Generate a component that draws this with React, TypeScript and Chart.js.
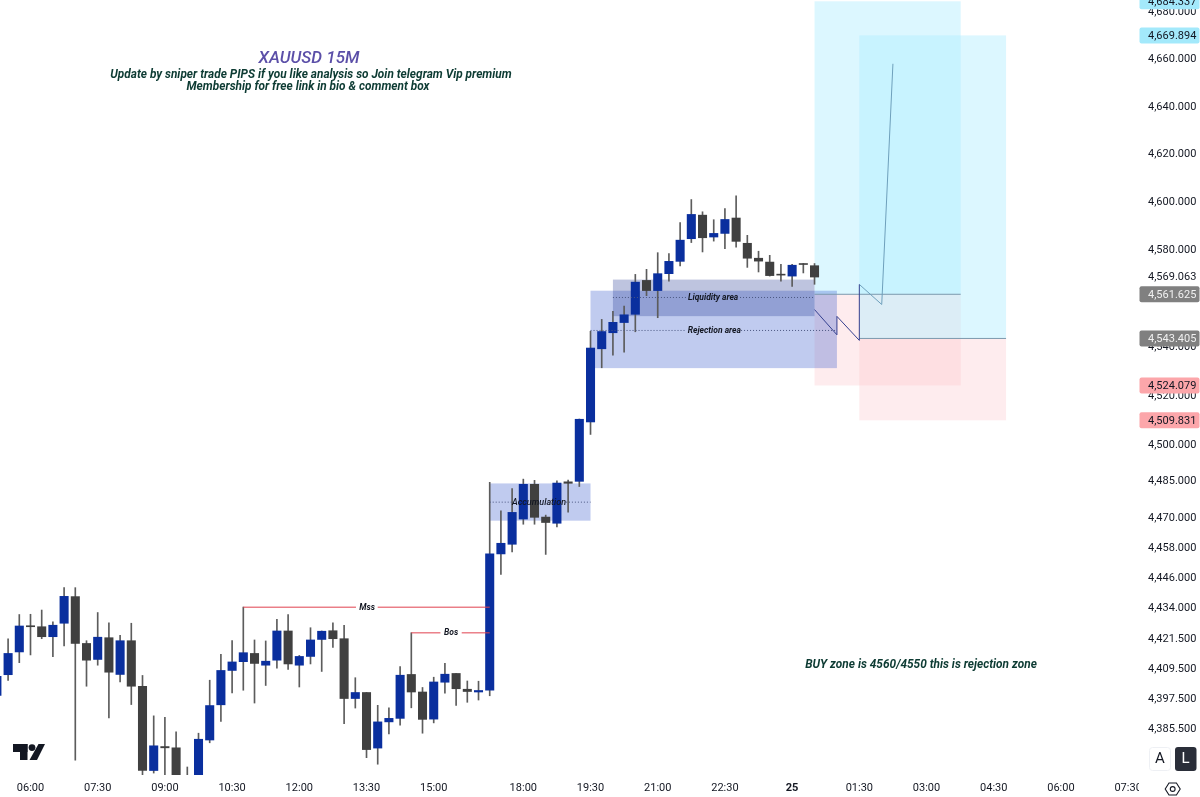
import React, { useEffect, useRef } from "react";
import { Chart, registerables } from "chart.js";

Chart.register(...registerables);

const FIRST_INDEX = -3;
// Prices were read against tick-label centres, which sit slightly above their true price level.
const READ_CORRECTION = 0.45;
const rawOpens = [4398.3,4406.6,4415.7,4426.2,4425.8,4421.8,4427.2,4437.9,4419.1,4412.7,4421.4,4406.7,4420.2,4402.0,4368.5,4378.0,4377.5,4362.0,4362.0,4380.6,4394.6,4408.3,4411.8,4415.1,4410.4,4412.4,4424.1,4410.4,4413.9,4420.7,4424.2,4421.0,4397.1,4399.5,4377.4,4387.8,4389.2,4406.7,4399.7,4388.9,4403.6,4407.1,4400.8,4399.7,4400.4,4455.1,4459.0,4469.2,4483.3,4470.0,4467.5,4484.3,4484.5,4508.7,4538.7,4545.3,4549.5,4552.9,4566.9,4562.7,4569.7,4574.8,4584.2,4594.0,4584.9,4586.4,4592.8,4582.3,4576.1,4574.5,4569.5,4568.7,4573.9,4573.0];
const rawHighs = [4408.7,4421.0,4430.7,4430.8,4432.5,4427.8,4441.5,4441.5,4420.2,4431.5,4427.4,4422.4,4427.2,4406.3,4390.2,4389.6,4383.8,4369.9,4383.3,4404.4,4414.7,4420.3,4433.7,4420.5,4420.1,4428.8,4430.7,4414.3,4425.4,4424.1,4427.4,4426.4,4405.4,4399.5,4394.4,4393.4,4409.8,4423.4,4401.5,4405.6,4411.1,4407.1,4404.1,4404.0,4484.1,4472.5,4481.6,4485.4,4484.9,4470.8,4484.7,4485.0,4509.9,4545.9,4550.8,4554.1,4556.3,4569.4,4571.5,4578.4,4578.0,4590.9,4600.5,4595.4,4592.1,4596.7,4602.1,4585.6,4579.0,4577.3,4573.6,4573.6,4573.9,4573.9];
const rawLows = [4396.0,4404.3,4411.4,4414.5,4421.0,4413.8,4418.1,4372.6,4402.0,4410.4,4389.4,4403.7,4394.7,4366.5,4367.5,4360.0,4358.0,4358.0,4358.0,4379.5,4388.0,4399.3,4400.4,4395.3,4402.3,4409.2,4408.7,4401.7,4410.9,4407.9,4417.5,4387.1,4393.3,4373.6,4371.0,4383.0,4386.5,4393.4,4383.3,4387.4,4399.2,4394.4,4395.6,4396.5,4398.2,4446.8,4455.9,4467.1,4467.1,4454.9,4466.0,4472.0,4482.4,4503.6,4530.9,4536.1,4537.3,4545.7,4560.6,4551.5,4566.6,4572.9,4582.6,4578.7,4583.2,4580.1,4580.7,4572.3,4570.4,4568.7,4566.6,4564.4,4570.0,4565.3];
const rawCloses = [4406.0,4415.1,4426.1,4425.8,4421.8,4426.4,4438.0,4419.1,4412.4,4421.6,4407.6,4420.2,4402.0,4368.5,4378.3,4377.5,4362.0,4358.5,4380.9,4394.3,4408.3,4411.7,4415.4,4411.1,4412.0,4424.1,4410.9,4413.9,4420.5,4424.0,4421.0,4397.1,4399.5,4376.8,4387.8,4389.2,4406.4,4399.7,4388.8,4403.7,4406.8,4401.0,4399.9,4400.3,4455.1,4459.4,4471.9,4483.3,4469.9,4467.8,4483.8,4483.7,4509.8,4539.0,4545.8,4549.6,4552.7,4566.2,4562.7,4569.7,4574.8,4583.6,4594.3,4584.6,4586.4,4592.2,4583.1,4576.1,4574.9,4568.9,4569.1,4573.2,4573.5,4568.3];
const opens = rawOpens.map((v) => v + READ_CORRECTION);
const highs = rawHighs.map((v) => v + READ_CORRECTION);
const lows = rawLows.map((v) => v + READ_CORRECTION);
const closes = rawCloses.map((v) => v + READ_CORRECTION);

const xTickIndexes = [0,6,12,18,24,30,36,44,50,56,62,68,74,80,86,92,98];
const xTickLabels = ["06:00","07:30","09:00","10:30","12:00","13:30","15:00","18:00","19:30","21:00","22:30","25","01:30","03:00","04:30","06:00","07:30"];
const yTicks = [4680,4660,4640,4620,4600,4580,4569.063,4540,4520,4500,4485,4470,4458,4446,4434,4421.5,4409.5,4397.5,4385.5];

const priceBadges = [4684.337,4669.894,4561.625,4543.405,4524.079,4509.831];
const badgeKinds = ["target","target","entry","entry","stop","stop"];

// [start index, end index, top price, bottom price]
const positionBoxes = [
  { kind: "target", box: [70,83.05,4684.337,4561.625] },
  { kind: "stop", box: [70,83.05,4561.625,4524.079] },
  { kind: "target", box: [74,87.1,4669.894,4543.405] },
  { kind: "stop", box: [74,87.1,4543.405,4509.831] },
];
const rejectionBoxes = [[41,50,4484.1,4469.0],[50,72,4563.1,4531.2]];
const liquidityBoxes = [[52,70,4567.7,4552.6]];

const pathDarkX = [70,72,72,74,74];
const pathDarkY = [4555.3,4544.9,4552.5,4542.6,4565.7];
const pathLightX = [74,76,77];
const pathLightY = [4565.7,4557.4,4657.9];

const mssLine = { price: 4434.1, spans: [[19,29.06],[31,41]] };
const bosLine = { price: 4423.8, spans: [[34,36.6],[38.5,41]] };
const dotted = [
  { price: 4476.5, spans: [[41,43.1],[47.8,50]] },
  { price: 4560.3, spans: [[52,58.6],[63.35,70]] },
  { price: 4546.7, spans: [[50,58.44],[63.44,72]] },
];
const entryLines = [[70,83.05,4561.625],[74,87.1,4543.405]];

const TITLE = "XAUUSD 15M";
const SUBTITLE = ["Update by sniper trade PIPS if you like analysis so Join telegram Vip premium","Membership for free link in bio & comment box"];
const NOTE = "BUY zone is 4560/4550 this is rejection zone";

const BLUE = "#0a2f9e";
const DARK = "#404040";
const WICK = "#5c5c5c";

const indexes = opens.map((_, i) => i + FIRST_INDEX);

function lineSet(points: {x:number;y:number}[], color: string, width = 1, dash: number[] = []) {
  return { type: "line", data: points, borderColor: color, borderWidth: width, borderDash: dash, pointRadius: 0, tension: 0, order: 1, fill: false };
}

const overlay = {
  id: "overlay",
  beforeDatasetsDraw(chart: any) {
    const { ctx, scales: { x, y } } = chart;
    const area = chart.chartArea;
    const box = (b: number[], c: string) => {
      const x0 = x.getPixelForValue(b[0]), x1 = x.getPixelForValue(b[1]);
      const y0 = y.getPixelForValue(b[2]), y1 = y.getPixelForValue(b[3]);
      ctx.fillStyle = c;
      ctx.fillRect(x0, y0, x1 - x0, y1 - y0);
    };
    ctx.save();
    ctx.beginPath();
    ctx.rect(area.left, area.top, area.width, area.height);
    ctx.clip();
    positionBoxes.forEach((p) => box(p.box, p.kind === "target" ? "rgba(174,236,255,0.43)" : "rgba(252,192,198,0.3)"));
    rejectionBoxes.forEach((b) => box(b, "rgba(38,76,200,0.29)"));
    liquidityBoxes.forEach((b) => box(b, "rgba(40,60,150,0.3)"));
    ctx.restore();
  },
  afterDatasetsDraw(chart: any) {
    const { ctx, scales: { x, y } } = chart;
    ctx.save();
    ctx.textAlign = "center";
    ctx.textBaseline = "middle";
    ctx.fillStyle = "#131722";
    ctx.font = "italic 700 8.5px Roboto";
    ctx.fillText("Mss", x.getPixelForValue(30.05), y.getPixelForValue(mssLine.price) + 0.5);
    ctx.fillText("Bos", x.getPixelForValue(37.55), y.getPixelForValue(bosLine.price) + 0.5);
    ctx.fillText("Liquidity area", x.getPixelForValue(60.95), y.getPixelForValue(dotted[1].price) + 0.5);
    ctx.fillText("Rejection area", x.getPixelForValue(61.05), y.getPixelForValue(dotted[2].price) + 0.5);
    ctx.font = "italic 500 9px Roboto";
    ctx.fillText("Accumulation", x.getPixelForValue(45.4), y.getPixelForValue(dotted[0].price) + 0.5);

    ctx.fillStyle = "#5b4fa8";
    ctx.font = "italic 500 17px Roboto";
    ctx.fillText(TITLE, 309, 59);
    ctx.fillStyle = "#0d3b33";
    ctx.font = "italic 700 11.85px Roboto";
    ctx.fillText(SUBTITLE[0], 311, 75);
    ctx.fillText(SUBTITLE[1], 308, 87);
    ctx.fillText(NOTE, 921, 665);
    ctx.restore();
  },
  afterDraw(chart: any) {
    const { ctx, scales: { y } } = chart;
    ctx.save();
    // clip the last time label at the price pane
    ctx.fillStyle = "#ffffff";
    ctx.fillRect(1139, 776, 61, 21);

    const fills: any = { target: "#a3e9fb", entry: "#808080", stop: "#fca6aa" };
    const inks: any = { target: "#131722", entry: "#f0f0f0", stop: "#131722" };
    ctx.textAlign = "left";
    ctx.textBaseline = "middle";
    ctx.font = "11px Roboto";
    priceBadges.forEach((v, i) => {
      const py = y.getPixelForValue(v);
      ctx.fillStyle = fills[badgeKinds[i]];
      ctx.beginPath();
      ctx.roundRect(1139.5, py - 8, 60, 16, 2);
      ctx.fill();
      ctx.fillStyle = inks[badgeKinds[i]];
      ctx.fillText(v.toLocaleString("en-US", { minimumFractionDigits: 3, maximumFractionDigits: 3 }), 1148, py + 0.5);
    });

    // logo
    ctx.fillStyle = "#131722";
    ctx.fillRect(13, 744, 14.5, 8);
    ctx.fillRect(20, 744, 7.5, 16);
    ctx.beginPath();
    ctx.arc(32, 747.6, 3.4, 0, Math.PI * 2);
    ctx.fill();
    ctx.beginPath();
    ctx.moveTo(38.5, 744);
    ctx.lineTo(45, 744);
    ctx.lineTo(37, 760);
    ctx.lineTo(29.5, 760);
    ctx.closePath();
    ctx.fill();

    // A / L buttons
    ctx.textAlign = "center";
    ctx.fillStyle = "#ffffff";
    ctx.strokeStyle = "#eef0f4";
    ctx.lineWidth = 1;
    ctx.beginPath();
    ctx.roundRect(1149.5, 747.5, 21, 23, 3);
    ctx.fill();
    ctx.stroke();
    ctx.fillStyle = "#131722";
    ctx.font = "15px Roboto";
    ctx.fillText("A", 1160, 759.5);
    ctx.fillStyle = "#2a2e39";
    ctx.beginPath();
    ctx.roundRect(1175, 747, 21.5, 24, 3);
    ctx.fill();
    ctx.fillStyle = "#ffffff";
    ctx.fillText("L", 1185.5, 759.5);

    // settings hexagon
    ctx.strokeStyle = "#131722";
    ctx.lineWidth = 1.1;
    ctx.beginPath();
    [[-7.5,0],[-3.7,-6],[3.7,-6],[7.5,0],[3.7,6],[-3.7,6]].forEach((p, i) => {
      const px = 1172.7 + p[0], py = 789 + p[1];
      if (i === 0) ctx.moveTo(px, py); else ctx.lineTo(px, py);
    });
    ctx.closePath();
    ctx.stroke();
    ctx.beginPath();
    ctx.arc(1172.7, 789, 2.4, 0, Math.PI * 2);
    ctx.stroke();
    ctx.restore();
  },
};

export default function App() {
  const ref = useRef<HTMLCanvasElement>(null);
  useEffect(() => {
    const spanSets = (o: any, color: string, dash: number[] = []) =>
      o.spans.map((s: number[]) => lineSet([{ x: s[0], y: o.price }, { x: s[1], y: o.price }], color, 1, dash));
    const datasets: any[] = [
      {
        data: indexes.map((x, i) => ({ x, y: [lows[i], highs[i]] })),
        backgroundColor: WICK,
        barThickness: 1,
        grouped: false,
        order: 3,
      },
      {
        data: indexes.map((x, i) => ({ x, y: [opens[i], closes[i]] })),
        backgroundColor: indexes.map((_, i) => (closes[i] >= opens[i] ? BLUE : DARK)),
        barThickness: 8.4,
        grouped: false,
        order: 2,
      },
      lineSet(pathDarkX.map((x, i) => ({ x, y: pathDarkY[i] })), "#343f8f"),
      lineSet(pathLightX.map((x, i) => ({ x, y: pathLightY[i] })), "#6e9fbb"),
      ...spanSets(mssLine, "#e0404e"),
      ...spanSets(bosLine, "#e0404e"),
      ...dotted.flatMap((o) => spanSets(o, "#4a5680", [1, 2])),
      ...entryLines.map((e) => lineSet([{ x: e[0], y: e[2] }, { x: e[1], y: e[2] }], "#7c99ae")),
    ];
    const chart = new Chart(ref.current as HTMLCanvasElement, {
      type: "bar",
      data: { datasets },
      plugins: [overlay],
      options: {
        animation: false,
        responsive: false,
        devicePixelRatio: 1,
        layout: { padding: 0 },
        plugins: { legend: { display: false }, tooltip: { enabled: false }, title: { display: false } },
        scales: {
          x: {
            type: "linear",
            min: -2.723,
            max: 98.97,
            offset: false,
            grid: { display: false, drawTicks: false },
            border: { display: false },
            afterFit: (s: any) => { s.height = 22; s.paddingLeft = 0; s.paddingRight = 0; },
            afterBuildTicks: (s: any) => { s.ticks = xTickIndexes.map((value) => ({ value })); },
            ticks: {
              autoSkip: false,
              maxRotation: 0,
              padding: 7,
              color: "#131722",
              font: (c: any) => ({ family: "Roboto", size: 11, weight: c.tick && c.tick.value === 68 ? "700" : "400" }),
              callback: (v: any) => xTickLabels[xTickIndexes.indexOf(Number(v))],
            },
          },
          y: {
            type: "logarithmic",
            position: "right",
            min: 4367.18,
            max: 4684.9,
            grid: { display: false, drawTicks: false },
            border: { display: false },
            afterFit: (s: any) => { s.width = 61; s.paddingTop = 0; s.paddingBottom = 0; },
            afterBuildTicks: (s: any) => { s.ticks = yTicks.map((value) => ({ value })); },
            ticks: {
              autoSkip: false,
              padding: 9,
              labelOffset: 0.5,
              color: "#131722",
              font: { family: "Roboto", size: 11 },
              callback: (v: any) => Number(v).toLocaleString("en-US", { minimumFractionDigits: 3, maximumFractionDigits: 3 }),
            },
          },
        },
      } as any,
    } as any);
    return () => chart.destroy();
  }, []);
  return (
    <canvas
      ref={ref}
      width={1200}
      height={797}
      style={{ position: "fixed", left: 0, top: 0, width: 1200, height: 797, display: "block", background: "#ffffff" }}
    />
  );
}
